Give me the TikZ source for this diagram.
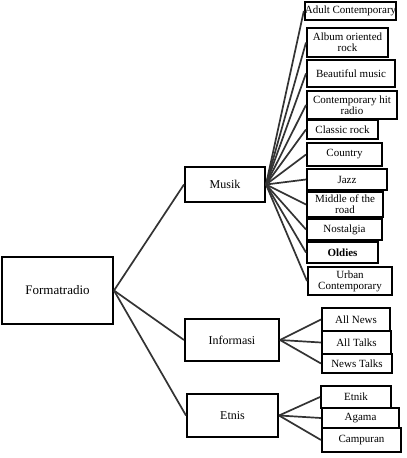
\documentclass[tikz,border=0pt]{standalone}
\usepackage{fontspec}
\setmainfont{Liberation Serif}
\begin{document}
\begin{tikzpicture}[x=1pt,y=-1pt,
  bx/.style={draw=black,line width=2pt,fill=white,inner sep=0pt,align=center,font=\fontsize{11}{11}\selectfont},
  pbx/.style={bx,font=\fontsize{12}{12}\selectfont},
  rbx/.style={bx,font=\fontsize{13}{13}\selectfont},
  conn/.style={draw=black!80,line width=1.7pt}]
\useasboundingbox[fill=white] (0,0) rectangle (407,458);
% root and parents
\node[rbx,minimum width=111pt,minimum height=67pt] (fr) at (57.5,290.5) {Formatradio};
\node[pbx,minimum width=80pt,minimum height=35pt] (mu) at (225,184.5) {Musik};
\node[pbx,minimum width=94pt,minimum height=42pt] (in) at (232,340) {Informasi};
\node[pbx,minimum width=91pt,minimum height=43pt] (et) at (232.5,415.5) {Etnis};
% music children
\node[bx,minimum width=91pt,minimum height=18pt] (ac) at (350.5,11) {Adult Contemporary};
\node[bx,minimum width=81pt,minimum height=29pt] (aor) at (347.5,42.5) {Album oriented\\rock};
\node[bx,minimum width=88pt,minimum height=27pt] (bm) at (351,73.5) {Beautiful music};
\node[bx,minimum width=90pt,minimum height=28pt] (chr) at (352,105) {Contemporary hit\\radio};
\node[bx,minimum width=71pt,minimum height=19pt] (cr) at (342.5,129.5) {Classic rock};
\node[bx,minimum width=75pt,minimum height=23pt] (co) at (344.5,154.5) {Country};
\node[bx,minimum width=80pt,minimum height=21pt] (jz) at (347,179.5) {Jazz};
\node[bx,minimum width=76pt,minimum height=25pt] (mor) at (345,204.5) {Middle of the\\road};
\node[bx,minimum width=75pt,minimum height=21pt] (no) at (344.5,229.5) {Nostalgia};
\node[bx,minimum width=71pt,minimum height=21pt] (ol) at (342.5,252.5) {\textbf{Oldies}};
\node[bx,minimum width=84pt,minimum height=28pt] (uc) at (350,281) {Urban\\Contemporary};
% info children
\node[bx,minimum width=68pt,minimum height=23pt] (an) at (356,319.5) {All News};
\node[bx,minimum width=69pt,minimum height=23pt] (at) at (356.5,342.5) {All Talks};
\node[bx,minimum width=70pt,minimum height=19pt] (nt) at (357,363.5) {News Talks};
% etnis children
\node[bx,minimum width=70pt,minimum height=22pt] (ek) at (356,397) {Etnik};
\node[bx,minimum width=77pt,minimum height=20pt] (ag) at (360.5,418) {Agama};
\node[bx,minimum width=79pt,minimum height=24pt] (cp) at (361.5,440) {Campuran};
% connectors
\foreach \p in {mu,in,et} \draw[conn] (fr.east) -- (\p.west);
\foreach \c in {ac,aor,bm,chr,cr,co,jz,mor,no,ol,uc} \draw[conn] (mu.east) -- (\c.west);
\foreach \c in {an,at,nt} \draw[conn] (in.east) -- (\c.west);
\foreach \c in {ek,ag,cp} \draw[conn] (et.east) -- (\c.west);
\end{tikzpicture}
\end{document}
